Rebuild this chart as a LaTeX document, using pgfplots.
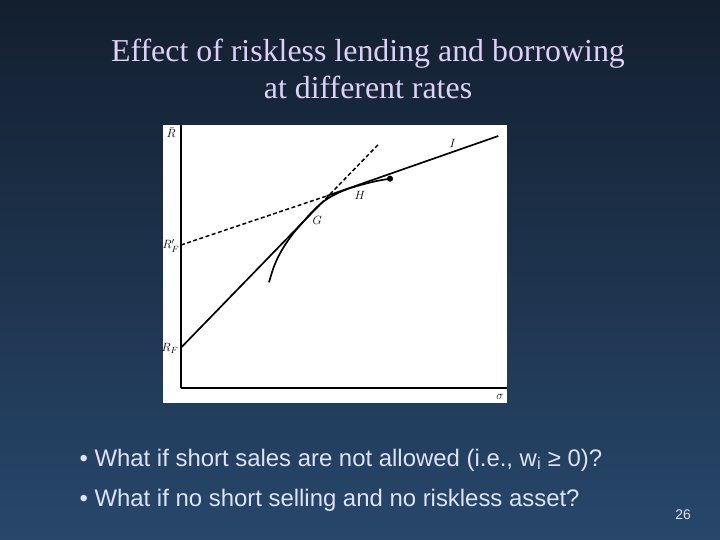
\documentclass[border=0pt]{standalone}
\usepackage{fontspec}
\setmainfont{Liberation Serif}
\newfontfamily\arial{Liberation Sans}
\usepackage{pgfplots}
\pgfplotsset{compat=1.18}
\definecolor{bgtop}{RGB}{19,31,47}
\definecolor{bgbot}{RGB}{39,71,107}
\definecolor{titlecol}{RGB}{222,208,246}
\definecolor{bodycol}{RGB}{222,226,245}

\begin{document}
\begin{tikzpicture}[x=1bp,y=1bp,
    lbl/.style={font=\fontsize{13}{15}\selectfont, inner sep=0pt}]
% slide background and white panel
\shade[top color=bgtop,bottom color=bgbot] (0,0) rectangle (720,540);
\fill[white] (162.5,137) rectangle (507,415);
\node[text=titlecol,font=\fontsize{32}{37.5}\selectfont,align=center] at (368,471)
  {Effect of riskless lending and borrowing\\at different rates};

\begin{axis}[
    at={(181,152)}, anchor=south west,
    scale only axis, width=326bp, height=263bp,
    xmin=0, xmax=326, ymin=0, ymax=263,
    axis x line=bottom, axis y line=left,
    axis line style={-, line width=1.5pt, black},
    xtick=\empty, ytick=\empty,
    clip=false,
]
% R_F line up to G, then its dashed extension
\addplot[black, line width=1.7pt] coordinates {(0,40.3) (140,184.5)};
\addplot[black, dash pattern=on 4pt off 2.5pt, line width=1.5pt] coordinates {(140,184.5) (197.3,243.5)};
% R'_F dashed line up to H, then solid line through I
\addplot[black, dash pattern=on 4pt off 2.5pt, line width=1.5pt] coordinates {(0,143) (145.7,192)};
\addplot[black, line width=1.7pt] coordinates {(145.7,192) (317.3,252)};
% efficient frontier
\addplot[black, line width=1.7pt, smooth, tension=0.5] coordinates {
    (88,105.7) (92.3,119.7) (97.3,131.3) (104,143) (112.3,154.7)
    (122.3,166.3) (132.3,177.3) (142.3,186.3) (152.3,192.7)
    (165.7,198.7) (182.3,203.7) (195.7,207) (209,209.3)
};
\addplot[black, only marks, mark=*, mark size=2.8pt] coordinates {(209,209.3)};
% labels
\node[lbl] at (axis cs:-10,255) {$\bar{R}$};
\node[lbl] at (axis cs:-10,142) {$R'_F$};
\node[lbl] at (axis cs:-11,40) {$R_F$};
\node[lbl] at (axis cs:319,-9) {$\sigma$};
\node[lbl] at (axis cs:271.7,245) {$I$};
\node[lbl] at (axis cs:179,193) {$H$};
\node[lbl] at (axis cs:136.3,167.3) {$G$};
\end{axis}

\node[anchor=west,text=bodycol,font=\arial\fontsize{24}{28}\selectfont] at (76,80)
  {\textbullet\ What if short sales are not allowed (i.e., w\textsubscript{i} ≥ 0)?};
\node[anchor=west,text=bodycol,font=\arial\fontsize{24}{28}\selectfont] at (76,40)
  {\textbullet\ What if no short selling and no riskless asset?};
\node[text=bodycol,font=\arial\fontsize{14}{16}\selectfont] at (683,25) {26};
\end{tikzpicture}
\end{document}
